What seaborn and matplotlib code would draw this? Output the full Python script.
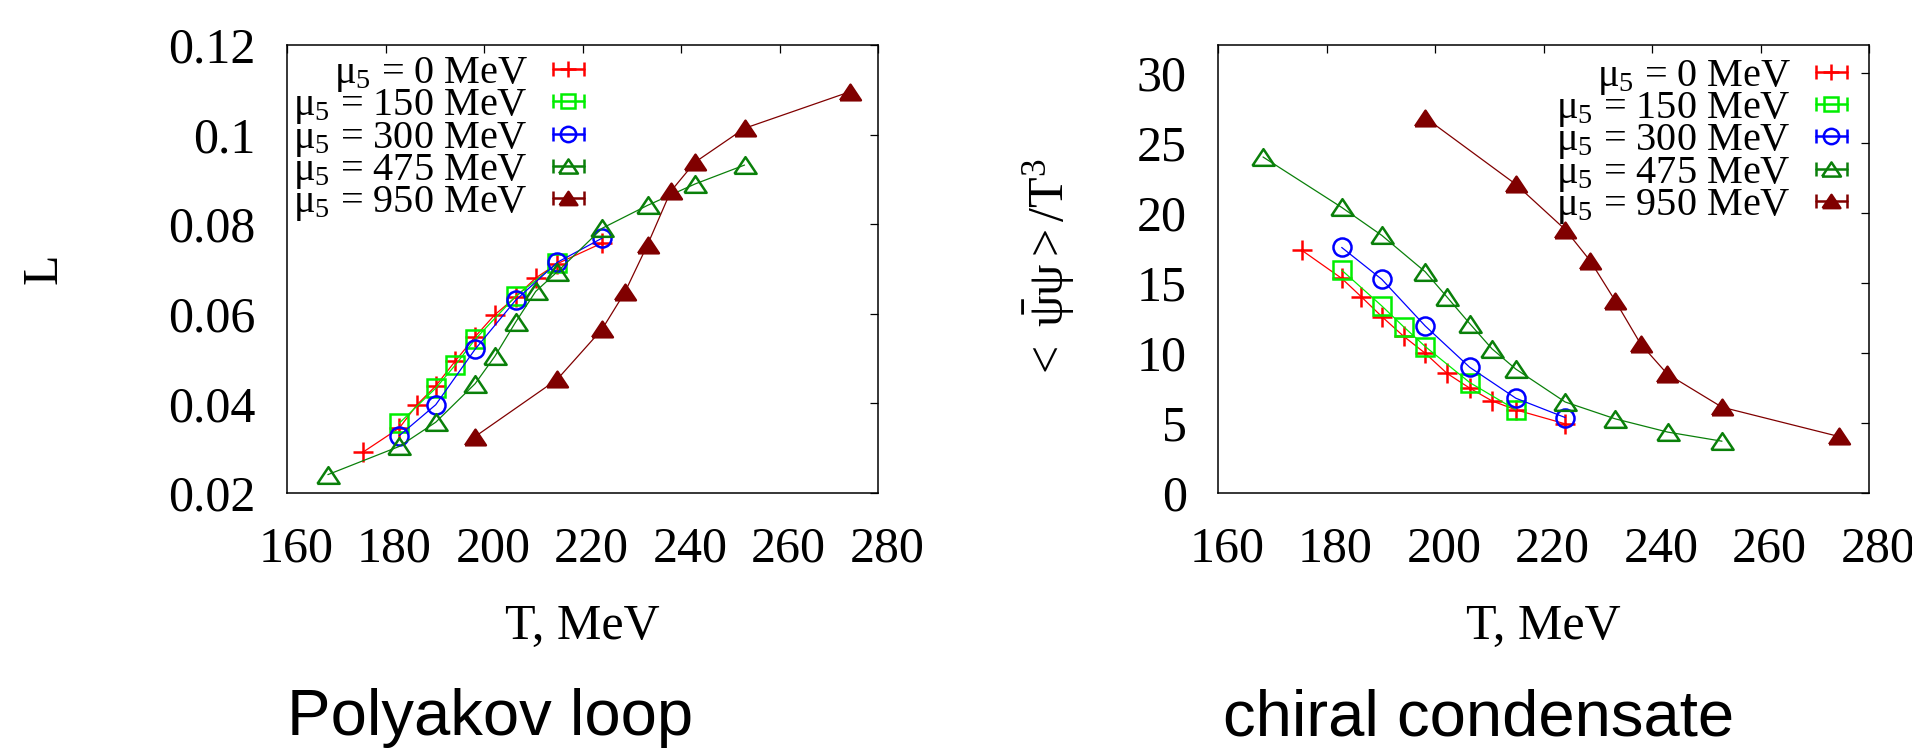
import numpy as np
import pandas as pd
import matplotlib
matplotlib.use("Agg")
import matplotlib.pyplot as plt
import seaborn as sns
from matplotlib.lines import Line2D
from matplotlib.legend_handler import HandlerTuple, HandlerLine2D
from matplotlib.transforms import ScaledTranslation

# ---------------- data ----------------
mu5_values = [0, 150, 300, 475, 950]

T_mu0 = [175.4, 182.8, 186.4, 190.2, 194.2, 198.2, 202.2, 206.4, 210.5, 214.9, 224.0]
L_mu0 = [0.0291, 0.0345, 0.0397, 0.0439, 0.0495, 0.0549, 0.0598, 0.0637, 0.0680, 0.0712, 0.0758]
C_mu0 = [17.35, 15.33, 14.02, 12.60, 11.20, 9.98, 8.55, 7.49, 6.58, 5.94, 4.94]

T_mu150 = [182.8, 190.2, 194.2, 198.2, 206.4, 214.9]
L_mu150 = [0.0356, 0.0434, 0.0486, 0.0543, 0.0639, 0.0713]
C_mu150 = [15.92, 13.36, 11.88, 10.46, 7.89, 5.94]

T_mu300 = [182.8, 190.2, 198.2, 206.4, 214.9, 224.0]
L_mu300 = [0.0328, 0.0397, 0.0521, 0.0630, 0.0715, 0.0769]
C_mu300 = [17.54, 15.26, 11.93, 8.98, 6.77, 5.39]

T_mu475 = [168.3, 182.8, 190.2, 198.2, 202.2, 206.4, 210.5, 214.9, 224.0, 233.2, 242.9, 252.9]
L_mu475 = [0.0241, 0.0304, 0.0358, 0.0444, 0.0505, 0.0581, 0.0650, 0.0694, 0.0791, 0.0842, 0.0890, 0.0932]
C_mu475 = [24.0, 20.4, 18.4, 15.8, 14.0, 12.1, 10.3, 8.85, 6.5, 5.3, 4.35, 3.7]

T_mu950 = [198.2, 214.9, 224.0, 228.6, 233.2, 237.9, 242.8, 252.9, 274.4]
L_mu950 = [0.0326, 0.0454, 0.0566, 0.0648, 0.0754, 0.0873, 0.0938, 0.1014, 0.1096]
C_mu950 = [26.81, 22.05, 18.82, 16.59, 13.74, 10.65, 8.51, 6.13, 4.04]

x_ticks = [160, 180, 200, 220, 240, 260, 280]
L_ticks = [0.02, 0.04, 0.06, 0.08, 0.10, 0.12]
L_tick_labels = ["0.02", "0.04", "0.06", "0.08", "0.1", "0.12"]
C_ticks = [0, 5, 10, 15, 20, 25, 30]
C_tick_labels = ["0", "5", "10", "15", "20", "25", "30"]

series_T = [T_mu0, T_mu150, T_mu300, T_mu475, T_mu950]
series_L = [L_mu0, L_mu150, L_mu300, L_mu475, L_mu950]
series_C = [C_mu0, C_mu150, C_mu300, C_mu475, C_mu950]

# ---------------- styles ----------------
TRI = [(-1, -0.75), (1, -0.75), (0, 0.75), (-1, -0.75)]
styles = [
    dict(color="#ff0000", marker="+", fc="none", ms=14),
    dict(color="#00ee00", marker="s", fc="none", ms=12.5),
    dict(color="#0000ff", marker="o", fc="none", ms=13),
    dict(color="#0a800a", marker=TRI, fc="none", ms=16),
    dict(color="#800000", marker=TRI, fc="#800000", ms=15),
]

sns.set_style("white")
plt.rcParams.update({
    "font.family": ["Liberation Serif", "DejaVu Serif"],
    "mathtext.fontset": "custom",
    "mathtext.rm": "Liberation Serif",
    "mathtext.it": "Liberation Serif:italic",
    "mathtext.bf": "Liberation Serif:bold",
    "axes.edgecolor": "black",
    "axes.linewidth": 1.1,
    "text.color": "black",
    "axes.labelcolor": "black",
    "xtick.color": "black",
    "ytick.color": "black",
})

W, H = 1912, 754
fig = plt.figure(figsize=(W / 100, H / 100), dpi=100)
ax1 = fig.add_axes([287 / W, 1 - 493 / H, 591 / W, 448 / H])
ax2 = fig.add_axes([1218 / W, 1 - 493 / H, 651 / W, 448 / H])

for T, L, C, st in zip(series_T, series_L, series_C, styles):
    for ax, Y in ((ax1, L), (ax2, C)):
        sns.lineplot(x=T, y=Y, ax=ax, color=st["color"], linewidth=0.9,
                     marker=st["marker"], markersize=st["ms"],
                     markerfacecolor=st["fc"], markeredgecolor=st["color"],
                     markeredgewidth=1.8, errorbar=None, legend=False)

labels = [r"$\mathrm{\mu_5}$ = %d MeV" % m for m in mu5_values]


def legend_handles():
    handles, hmap = [], {tuple: HandlerTuple(ndivide=1, pad=0)}
    for st in styles:
        bar = Line2D([], [], color=st["color"], lw=1.8, marker="|",
                     markersize=10, markeredgewidth=1.8)
        mk = Line2D([], [], ls="none", color=st["color"], marker=st["marker"],
                    markersize=st["ms"] * 0.85, markerfacecolor=st["fc"],
                    markeredgecolor=st["color"], markeredgewidth=1.8)
        hmap[bar] = HandlerLine2D(numpoints=2, marker_pad=0)
        hmap[mk] = HandlerLine2D(numpoints=1)
        handles.append((bar, mk))
    return handles, hmap


for ax, anchor in ((ax1, ((584 - 287) / 591, 0.978)), (ax2, ((1847 - 1218) / 651, 0.972))):
    h, hm = legend_handles()
    ax.legend(h, labels, handler_map=hm, loc="upper right", bbox_to_anchor=anchor,
              frameon=False, markerfirst=False, fontsize=29, handlelength=0.77,
              handletextpad=0.62, labelspacing=-0.17, borderpad=0, borderaxespad=0)

for ax in (ax1, ax2):
    ax.set_xlim(160, 280)
    ax.set_xticks(x_ticks)
    ax.set_xticklabels([str(t) for t in x_ticks])
    ax.tick_params(direction="in", top=True, right=True, length=5.5, width=0.9,
                   labelsize=36)
    ax.tick_params(axis="x", pad=24)
    ax.tick_params(axis="y", pad=22.5)
    for sp in ax.spines.values():
        sp.set_visible(True)
        sp.set_color("black")
        sp.set_linewidth(1.1)
    ax.set_xlabel("T, MeV", fontsize=36)
    ax.xaxis.set_label_coords(0.5, (493 - 603) / 448)

ax1.set_ylim(0.02, 0.12)
ax1.set_yticks(L_ticks)
ax1.set_yticklabels(L_tick_labels)
ax2.set_ylim(0, 32)
ax2.set_yticks(C_ticks)
ax2.set_yticklabels(C_tick_labels)

ax1.set_ylabel("L", fontsize=36)
ax1.yaxis.label.set_va("center")
ax1.yaxis.set_label_coords((44 - 287) / 591, 0.5)
ax2.set_ylabel(r"$\mathrm{{<}\ \bar{\psi}\psi{>}/T^3}$", fontsize=36)
ax2.yaxis.label.set_va("center")
ax2.yaxis.set_label_coords((1049 - 1218) / 651, 0.5)

off = ScaledTranslation(9 / 100, 0, fig.dpi_scale_trans)
for ax in (ax1, ax2):
    for lab in ax.get_xticklabels():
        lab.set_transform(lab.get_transform() + off)

fig.text(490 / W, 1 - 735 / H, "Polyakov loop", ha="center", va="baseline",
         fontsize=47, family=["Liberation Sans", "DejaVu Sans"])
fig.text(1479 / W, 1 - 735 / H, "chiral condensate", ha="center", va="baseline",
         fontsize=47, family=["Liberation Sans", "DejaVu Sans"])

fig.savefig("out.png", dpi=100)
